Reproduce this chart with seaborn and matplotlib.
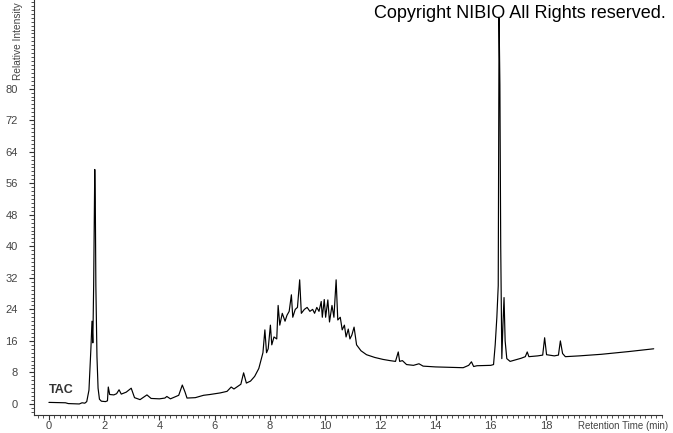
import matplotlib
matplotlib.use("Agg")
import matplotlib.pyplot as plt
from matplotlib.ticker import MultipleLocator
import seaborn as sns
import numpy as np
import pandas as pd

# chromatogram trace (min, relative intensity)
time_min = [0.00, 0.60, 0.70, 1.10, 1.20, 1.30, 1.37, 1.45, 1.52, 1.56,
            1.59, 1.62, 1.66, 1.68, 1.70, 1.74, 1.78, 1.83, 1.90, 2.05,
            2.12, 2.15, 2.20, 2.35, 2.45, 2.54, 2.62, 2.80, 2.98, 3.10,
            3.30, 3.45, 3.55, 3.70, 4.00, 4.20, 4.27, 4.40, 4.70, 4.83,
            4.93, 5.00, 5.30, 5.60, 5.83, 6.20, 6.45, 6.60, 6.70, 6.95,
            7.05, 7.15, 7.30, 7.45, 7.60, 7.75, 7.82, 7.88, 7.94, 8.02,
            8.07, 8.15, 8.25, 8.30, 8.36, 8.45, 8.55, 8.62, 8.70, 8.78,
            8.83, 8.92, 9.00, 9.08, 9.14, 9.25, 9.35, 9.45, 9.55, 9.62,
            9.70, 9.78, 9.86, 9.90, 9.97, 10.02, 10.10, 10.16, 10.25, 10.32,
            10.40, 10.46, 10.55, 10.62, 10.70, 10.76, 10.84, 10.90, 10.97, 11.05,
            11.14, 11.30, 11.50, 11.80, 12.10, 12.35, 12.55, 12.65, 12.70, 12.80,
            12.95, 13.20, 13.40, 13.55, 14.00, 14.50, 15.00, 15.20, 15.30, 15.38,
            15.50, 16.00, 16.10, 16.16, 16.22, 16.27, 16.30, 16.33, 16.36, 16.40,
            16.44, 16.48, 16.52, 16.58, 16.70, 16.90, 17.10, 17.25, 17.32, 17.38,
            17.70, 17.88, 17.95, 18.02, 18.30, 18.45, 18.52, 18.60, 18.70, 19.20,
            20.00, 21.00, 21.50, 21.90]
intensity = [0.4, 0.3, 0.1, 0.0, 0.3, 0.2, 0.6, 3.5, 14, 21,
             15.5, 30, 59.5, 51, 30, 12, 4, 1.2, 0.7, 0.6,
             0.8, 4.3, 2.4, 2.3, 2.6, 3.6, 2.5, 3.0, 4.0, 1.6,
             1.1, 1.8, 2.3, 1.4, 1.3, 1.5, 1.9, 1.3, 2.2, 4.8,
             3.0, 1.5, 1.6, 2.2, 2.4, 2.8, 3.2, 4.3, 3.8, 5.0,
             7.9, 5.3, 5.8, 7.0, 9.0, 13, 18.8, 13, 14, 20,
             15, 17, 16.5, 25.0, 20, 23, 21, 22.5, 23.5, 27.7,
             22, 24, 24.5, 31.5, 23, 24, 24.5, 23.5, 24, 23.0,
             24.5, 23.5, 26, 22, 26.5, 22, 26.4, 20.8, 25, 22,
             31.5, 21.3, 22, 18.8, 20, 17, 19, 16.5, 17.5, 19.5,
             15, 13.5, 12.5, 11.8, 11.3, 11.0, 10.8, 13.2, 10.8, 11,
             10.0, 9.8, 10.2, 9.6, 9.4, 9.3, 9.2, 9.8, 10.7, 9.5,
             9.7, 9.8, 10.0, 15, 22, 30, 98, 81, 40, 11.5,
             20, 27, 16, 11.5, 10.8, 11.2, 11.6, 12.0, 13.2, 12.0,
             12.2, 12.4, 16.8, 12.5, 12.2, 12.4, 16.0, 12.8, 12.0, 12.2,
             12.6, 13.3, 13.7, 14.0]

x_ticks = [0, 2, 4, 6, 8, 10, 12, 14, 16, 18]
y_ticks = [0, 8, 16, 24, 32, 40, 48, 56, 64, 72, 80]

sns.set_style("white")
plt.rcParams['font.family'] = ['Liberation Sans', 'DejaVu Sans']

df = pd.DataFrame({'time': time_min, 'intensity': intensity})

fig = plt.figure(figsize=(6.73, 4.33), dpi=100)
ax = fig.add_axes([34/673, 1 - 415/433, (662-34)/673, 415/433])
sns.lineplot(data=df, x='time', y='intensity', color='black', linewidth=0.85,
             estimator=None, ax=ax)

ax.set_xlim(-0.54, 22.2)
ax.set_ylim(-2.8, 102.5)
ax.set_xlabel('')
ax.set_ylabel('')
ax.set_xticks(x_ticks)
ax.set_yticks(y_ticks)
ax.xaxis.set_minor_locator(MultipleLocator(0.2))
ax.yaxis.set_minor_locator(MultipleLocator(1))
ax.tick_params(axis='both', which='major', length=3.5, width=0.8, color='#333333',
               labelsize=8, labelcolor='#444444', direction='out')
ax.tick_params(axis='both', which='minor', length=2, width=0.6, color='#333333',
               direction='out')
ax.tick_params(axis='x', which='both', bottom=True)
ax.tick_params(axis='y', which='both', left=True)
ax.tick_params(axis='x', which='major', pad=1)
ax.tick_params(axis='y', which='major', pad=8)
for s in ['top', 'right']:
    ax.spines[s].set_visible(False)
for s in ['left', 'bottom']:
    ax.spines[s].set_color('#333333')
    ax.spines[s].set_linewidth(0.8)

fig.text(666/673, 1 - 14/433, 'Copyright NIBIO All Rights reserved.',
         ha='right', va='center', fontsize=13, color='black')
fig.text(18/673, 1 - 80/433, 'Relative Intensity', rotation=90,
         ha='center', va='bottom', fontsize=7.3, color='#444444')
fig.text(668/673, 1 - 426/433, 'Retention Time (min)', ha='right', va='center',
         fontsize=7, color='#444444')
ax.text(0.0, 3.5, 'TAC', fontsize=9, fontweight='bold', color='#333333',
        ha='left', va='center')

fig.savefig('out.png', dpi=100)
